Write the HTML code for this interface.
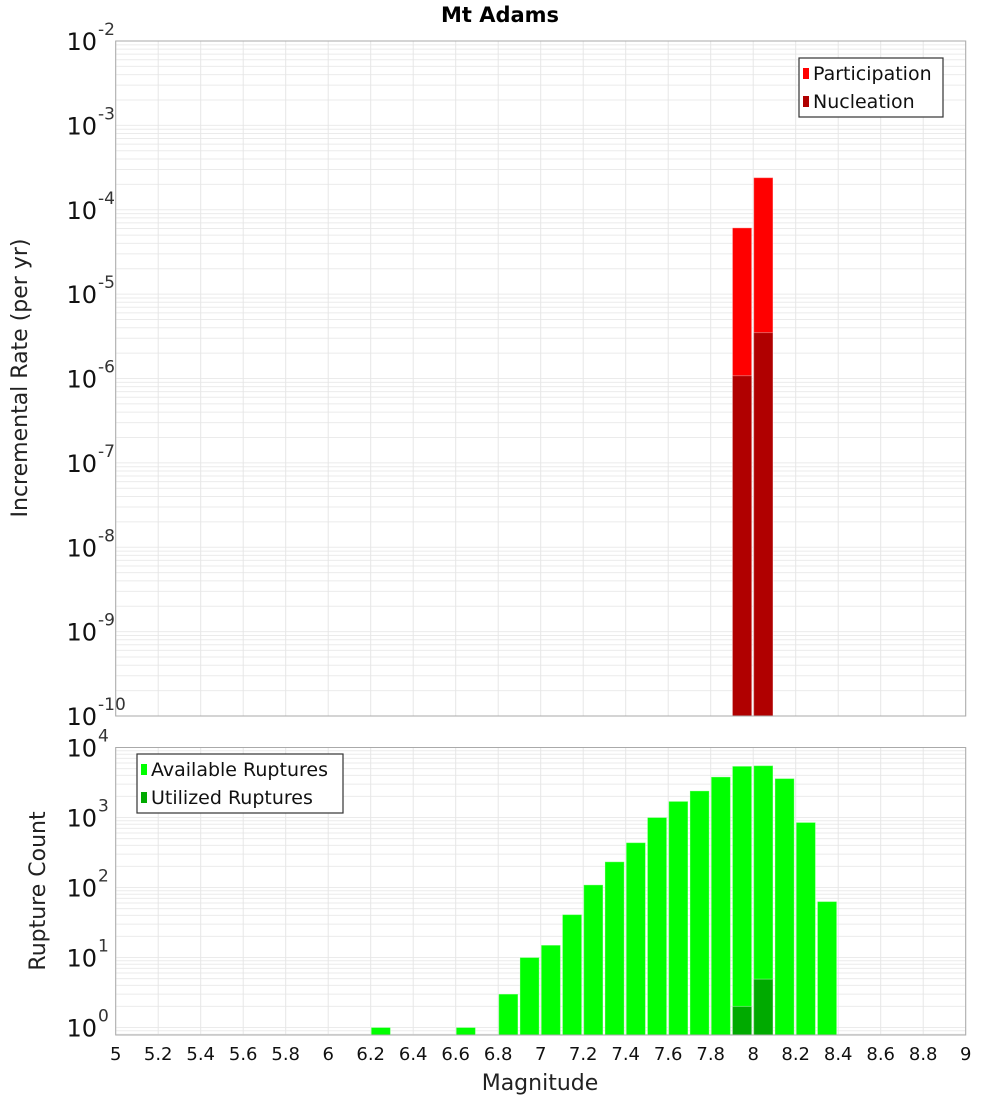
<!DOCTYPE html>
<html><head><meta charset="utf-8"><style>
html,body{margin:0;padding:0;background:#fff;}
svg{display:block;font-family:"Liberation Sans","DejaVu Sans",sans-serif;}
</style></head><body>
<svg id="chart" width="1000" height="1100" xmlns="http://www.w3.org/2000/svg">
<text x="500" y="22" text-anchor="middle" font-size="21" font-weight="bold" font-family="DejaVu Sans, Liberation Sans, sans-serif">Mt Adams</text>
<g id="top"></g>
<g id="bot"></g>
<text transform="translate(27,378) rotate(-90)" text-anchor="middle" font-size="22" font-family="DejaVu Sans, Liberation Sans, sans-serif" fill="#222">Incremental Rate (per yr)</text>
<text transform="translate(45,891) rotate(-90)" text-anchor="middle" font-size="22" font-family="DejaVu Sans, Liberation Sans, sans-serif" fill="#222">Rupture Count</text>
<text x="540" y="1090" text-anchor="middle" font-size="22" font-family="DejaVu Sans, Liberation Sans, sans-serif" fill="#222">Magnitude</text>
</svg>
<script>
const xTicks = ["5","5.2","5.4","5.6","5.8","6","6.2","6.4","6.6","6.8","7","7.2","7.4","7.6","7.8","8","8.2","8.4","8.6","8.8","9"];
const partMags = [7.9, 8.0];
const partRates = [6.1e-5, 2.4e-4];
const nuclMags = [7.9, 8.0];
const nuclRates = [1.08e-6, 3.5e-6];
const availMags = [6.2, 6.6, 6.8, 6.9, 7.0, 7.1, 7.2, 7.3, 7.4, 7.5, 7.6, 7.7, 7.8, 7.9, 8.0, 8.1, 8.2, 8.3];
const availCounts = [1, 1, 3, 10, 15, 41, 109, 233, 437, 1000, 1700, 2400, 3800, 5400, 5500, 3600, 850, 63];
const usedMags = [7.9, 8.0];
const usedCounts = [2, 4.9];
const topExps = [-10,-9,-8,-7,-6,-5,-4,-3,-2];
const botExps = [0,1,2,3,4];

const NS = "http://www.w3.org/2000/svg";
const X0 = 115.7, X1 = 965.7;
const xs = m => X0 + (m - 5) / 4 * (X1 - X0);
function mk(parent, tag, attrs){ const e = document.createElementNS(NS, tag); for (const k in attrs) e.setAttribute(k, attrs[k]); parent.appendChild(e); return e; }

function panel(g, top, bottom, lmin, lmax, exps, labelX) {
  const ys = v => bottom - (Math.log10(v) - lmin) / (lmax - lmin) * (bottom - top);
  // grid horizontal
  for (let d = Math.floor(lmin); d < Math.ceil(lmax); d++) {
    for (let k = 1; k <= 9; k++) {
      const v = k * Math.pow(10, d); const y = ys(v);
      if (y < top - 0.1 || y > bottom + 0.1) continue;
      const l = mk(g, "line", {x1:X0, x2:X1, y1:y, y2:y, stroke:"#ebebeb", "stroke-width":1});
      
      
    }
  }
  xTicks.forEach(t => {
    const x = xs(parseFloat(t));
    const l = mk(g, "line", {x1:x, x2:x, y1:top, y2:bottom, stroke:"#e6e6e6", "stroke-width":1});
    
    
  });
  exps.forEach(e => {
    const y = ys(Math.pow(10, e));
    const t = mk(g, "text", {x:labelX, y:y + 9, "font-size":24, "text-anchor":"end", fill:"#111", "font-family":"DejaVu Sans, Liberation Sans, sans-serif"});
    
    
    t.textContent = "10";
    const s = mk(g, "text", {x:labelX + 1, y:y - 6, "font-size":17, fill:"#333", "font-family":"DejaVu Sans, Liberation Sans, sans-serif"});
    
    
    s.textContent = String(e);
  });
  return ys;
}

function bars(g, ys, bottom, mags, vals, color, name) {
  mags.forEach((m, i) => {
    const x = xs(m) + 0.5, w = xs(m + 0.1) - xs(m) - 2;
    const y = Math.max(ys(vals[i]), 0);
    const r = mk(g, "rect", {x:x, y:y, width:w, height:bottom - y, fill:color, stroke:"rgba(255,255,255,0.35)", "stroke-width":1});
    
    
  });
}

function frame(g, top, bottom) {
  const r = mk(g, "rect", {x:X0, y:top, width:X1 - X0, height:bottom - top, fill:"none", stroke:"#aaa", "stroke-width":1});
  
  
}

function legend(g, x, y, w, h, items) {
  const r = mk(g, "rect", {x:x, y:y, width:w, height:h, fill:"#fff", stroke:"#333", "stroke-width":1.2});
  
  
  items.forEach((it, i) => {
    const cy = y + 15 + i * 28;
    const s = mk(g, "rect", {x:x + 4, y:cy - 5, width:6, height:11, fill:it[1]});
    
    
    const t = mk(g, "text", {x:x + 14, y:cy + 7, "font-size":19, fill:"#111", "font-family":"DejaVu Sans, Liberation Sans, sans-serif"});
    
    
    t.textContent = it[0];
  });
}

// top panel
const gt = document.getElementById("top");
const T0 = 41, T1 = 716;
const yt = panel(gt, T0, T1, -10, -2, topExps, 97);
bars(gt, yt, T1, partMags, partRates, "#ff0000", "participation-bar");
bars(gt, yt, T1, nuclMags, nuclRates, "#b00000", "nucleation-bar");
frame(gt, T0, T1);
legend(gt, 799, 58, 144, 59, [["Participation", "#ff0000"], ["Nucleation", "#b00000"]]);

// bottom panel
const gb = document.getElementById("bot");
const B0 = 747.5, B1 = 1035;
const ppd = 69.9;
const bmin = -(B1 - 1027.5) / ppd;
const bmax = 4 + (747.5 - B0) / ppd;
const yb = panel(gb, B0, B1, bmin, bmax, botExps, 97);
bars(gb, yb, B1, availMags, availCounts, "#00ff00", "available-ruptures-bar");
bars(gb, yb, B1, usedMags, usedCounts, "#00aa00", "utilized-ruptures-bar");
frame(gb, B0, B1);
legend(gb, 137, 754, 206, 59, [["Available Ruptures", "#00ff00"], ["Utilized Ruptures", "#00aa00"]]);

// x tick labels
xTicks.forEach(t => {
  const tx = mk(gb, "text", {x:xs(parseFloat(t)), y:1060, "text-anchor":"middle", "font-size":18, fill:"#111", "font-family":"DejaVu Sans, Liberation Sans, sans-serif"});
  
  
  tx.textContent = t;
});
</script>
</body></html>
